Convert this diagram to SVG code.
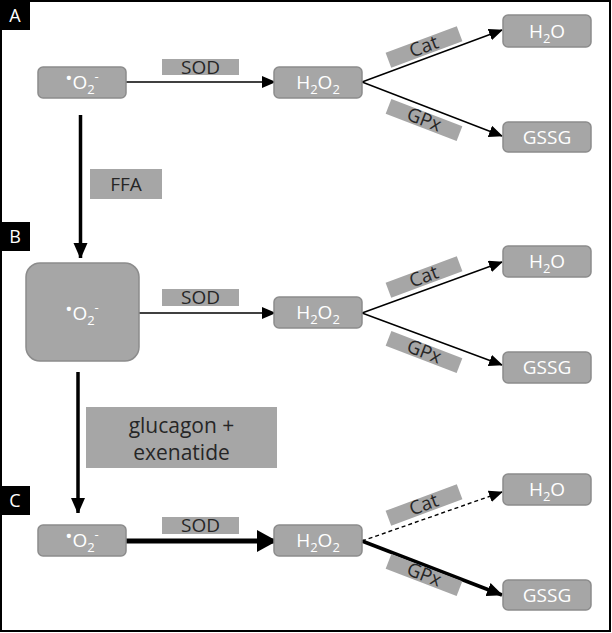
<svg xmlns="http://www.w3.org/2000/svg" width="612" height="633" viewBox="0 0 612 633">
<defs>
<style>
.node{fill:#a6a6a6;stroke:#8c8c8c;stroke-width:1.5}
.lbl{fill:#a6a6a6}
.nt{font-family:"Open Sans","Noto Sans",sans-serif;font-size:19px;fill:#ffffff;text-anchor:middle}
.lt{font-family:"Open Sans","Noto Sans",sans-serif;font-size:19px;fill:#262626;text-anchor:middle}
.pt{font-family:"Open Sans","Noto Sans",sans-serif;font-size:18px;fill:#ffffff;text-anchor:middle}
.ln{stroke:#000;stroke-width:1.4;fill:none}
.thick{stroke:#000;stroke-width:5;fill:none}
.vert{stroke:#000;stroke-width:3.5;fill:none}
</style>
<marker id="ah" markerUnits="userSpaceOnUse" markerWidth="14" markerHeight="12" refX="13" refY="6" orient="auto"><path d="M0,0 L14,6 L0,12 Z" fill="#000"/></marker>
<marker id="ahv" markerUnits="userSpaceOnUse" markerWidth="14" markerHeight="16" refX="15" refY="7" orient="auto"><path d="M0,0 L16,7 L0,14 Z" fill="#000"/></marker>
<marker id="ahb" markerUnits="userSpaceOnUse" markerWidth="20" markerHeight="22" refX="19" refY="11" orient="auto"><path d="M0,0 L20,11 L0,22 Z" fill="#000"/></marker>
<marker id="ahm" markerUnits="userSpaceOnUse" markerWidth="16" markerHeight="14" refX="15" refY="7" orient="auto"><path d="M0,0 L16,7 L0,14 Z" fill="#000"/></marker>
</defs>
<rect x="1" y="1" width="609" height="630" fill="#fff" stroke="#000" stroke-width="2"/>

<g id="panel-labels">
<rect x="0" y="0" width="30" height="30" fill="#000"/><text x="15" y="22" class="pt">A</text>
<rect x="0" y="222" width="30" height="29" fill="#000"/><text x="15" y="243" class="pt">B</text>
<rect x="0" y="486" width="30" height="29" fill="#000"/><text x="15" y="507" class="pt">C</text>
</g>

<g id="connectors">
<line class="ln" x1="126" y1="82" x2="275" y2="82" marker-end="url(#ah)"/>
<line class="ln" x1="362" y1="82" x2="502" y2="30" marker-end="url(#ah)"/>
<line class="ln" x1="362" y1="82" x2="502" y2="136" marker-end="url(#ah)"/>
<line class="vert" x1="80.5" y1="115" x2="80.5" y2="258" marker-end="url(#ahv)"/>
<line class="ln" x1="139" y1="313" x2="275" y2="313" marker-end="url(#ah)"/>
<line class="ln" x1="362" y1="313" x2="502" y2="262" marker-end="url(#ah)"/>
<line class="ln" x1="362" y1="313" x2="502" y2="365" marker-end="url(#ah)"/>
<line class="vert" x1="78" y1="372" x2="78" y2="513" marker-end="url(#ahv)"/>
<line class="thick" x1="126" y1="541" x2="276" y2="541" marker-end="url(#ahb)"/>
<line class="ln" x1="362" y1="541" x2="502" y2="492" stroke-dasharray="4,3" marker-end="url(#ah)"/>
<line stroke="#000" stroke-width="3.5" x1="362" y1="541" x2="502" y2="595" marker-end="url(#ahm)"/>
</g>

<g id="edge-labels">
<rect class="lbl" x="162" y="59" width="77" height="16"/><text class="lt" x="200.5" y="74">SOD</text>
<g transform="translate(424,47) rotate(-20.5)"><rect class="lbl" x="-38" y="-8" width="76" height="16"/><text class="lt" x="0" y="6">Cat</text></g>
<g transform="translate(424,120) rotate(21)"><rect class="lbl" x="-38" y="-8" width="76" height="16"/><text class="lt" x="0" y="6">GPx</text></g>
<rect class="lbl" x="90" y="169" width="72" height="30"/><text class="lt" x="126" y="191">FFA</text>
<rect class="lbl" x="162" y="289" width="77" height="17"/><text class="lt" x="200.5" y="304">SOD</text>
<g transform="translate(424,277) rotate(-20.5)"><rect class="lbl" x="-38" y="-8" width="76" height="16"/><text class="lt" x="0" y="6">Cat</text></g>
<g transform="translate(424,352) rotate(21)"><rect class="lbl" x="-38" y="-8" width="76" height="16"/><text class="lt" x="0" y="6">GPx</text></g>
<rect class="lbl" x="86" y="407" width="191" height="61"/>
<text class="lt" x="181.5" y="433" style="font-size:21px">glucagon +</text>
<text class="lt" x="181.5" y="460" style="font-size:21px">exenatide</text>
<rect class="lbl" x="162" y="517" width="77" height="17"/><text class="lt" x="200.5" y="532">SOD</text>
<g transform="translate(424,505) rotate(-20.5)"><rect class="lbl" x="-38" y="-8" width="76" height="16"/><text class="lt" x="0" y="6">Cat</text></g>
<g transform="translate(424,575) rotate(21)"><rect class="lbl" x="-38" y="-8" width="76" height="16"/><text class="lt" x="0" y="6">GPx</text></g>
</g>

<g id="A-O2"><rect class="node" x="38" y="67" width="88" height="31" rx="5"/><text class="nt" x="82" y="89"><tspan font-size="19" dy="-4">•</tspan><tspan dy="4">O</tspan><tspan font-size="13" dy="5">2</tspan><tspan font-size="13" dy="-13">-</tspan></text></g>
<g id="A-H2O2"><rect class="node" x="274" y="67" width="88" height="31" rx="5"/><text class="nt" x="318" y="89">H<tspan font-size="13" dy="5">2</tspan><tspan dy="-5">O</tspan><tspan font-size="13" dy="5">2</tspan></text></g>
<g id="A-H2O"><rect class="node" x="503" y="15" width="88" height="32" rx="5"/><text class="nt" x="547" y="38">H<tspan font-size="13" dy="5">2</tspan><tspan dy="-5">O</tspan></text></g>
<g id="A-GSSG"><rect class="node" x="503" y="122" width="88" height="30" rx="5"/><text class="nt" x="547" y="144">GSSG</text></g>

<g id="B-O2"><rect class="node" x="26" y="263" width="113" height="98" rx="14"/><text class="nt" x="82" y="320"><tspan font-size="19" dy="-4">•</tspan><tspan dy="4">O</tspan><tspan font-size="13" dy="5">2</tspan><tspan font-size="13" dy="-13">-</tspan></text></g>
<g id="B-H2O2"><rect class="node" x="274" y="297" width="88" height="31" rx="5"/><text class="nt" x="318" y="319">H<tspan font-size="13" dy="5">2</tspan><tspan dy="-5">O</tspan><tspan font-size="13" dy="5">2</tspan></text></g>
<g id="B-H2O"><rect class="node" x="503" y="246" width="88" height="31" rx="5"/><text class="nt" x="547" y="268">H<tspan font-size="13" dy="5">2</tspan><tspan dy="-5">O</tspan></text></g>
<g id="B-GSSG"><rect class="node" x="503" y="352" width="88" height="31" rx="5"/><text class="nt" x="547" y="374">GSSG</text></g>

<g id="C-O2"><rect class="node" x="38" y="525" width="88" height="31" rx="5"/><text class="nt" x="82" y="547"><tspan font-size="19" dy="-4">•</tspan><tspan dy="4">O</tspan><tspan font-size="13" dy="5">2</tspan><tspan font-size="13" dy="-13">-</tspan></text></g>
<g id="C-H2O2"><rect class="node" x="274" y="525" width="88" height="31" rx="5"/><text class="nt" x="318" y="547">H<tspan font-size="13" dy="5">2</tspan><tspan dy="-5">O</tspan><tspan font-size="13" dy="5">2</tspan></text></g>
<g id="C-H2O"><rect class="node" x="503" y="474" width="88" height="31" rx="5"/><text class="nt" x="547" y="496">H<tspan font-size="13" dy="5">2</tspan><tspan dy="-5">O</tspan></text></g>
<g id="C-GSSG"><rect class="node" x="503" y="580" width="88" height="30" rx="5"/><text class="nt" x="547" y="602">GSSG</text></g>
</svg>
